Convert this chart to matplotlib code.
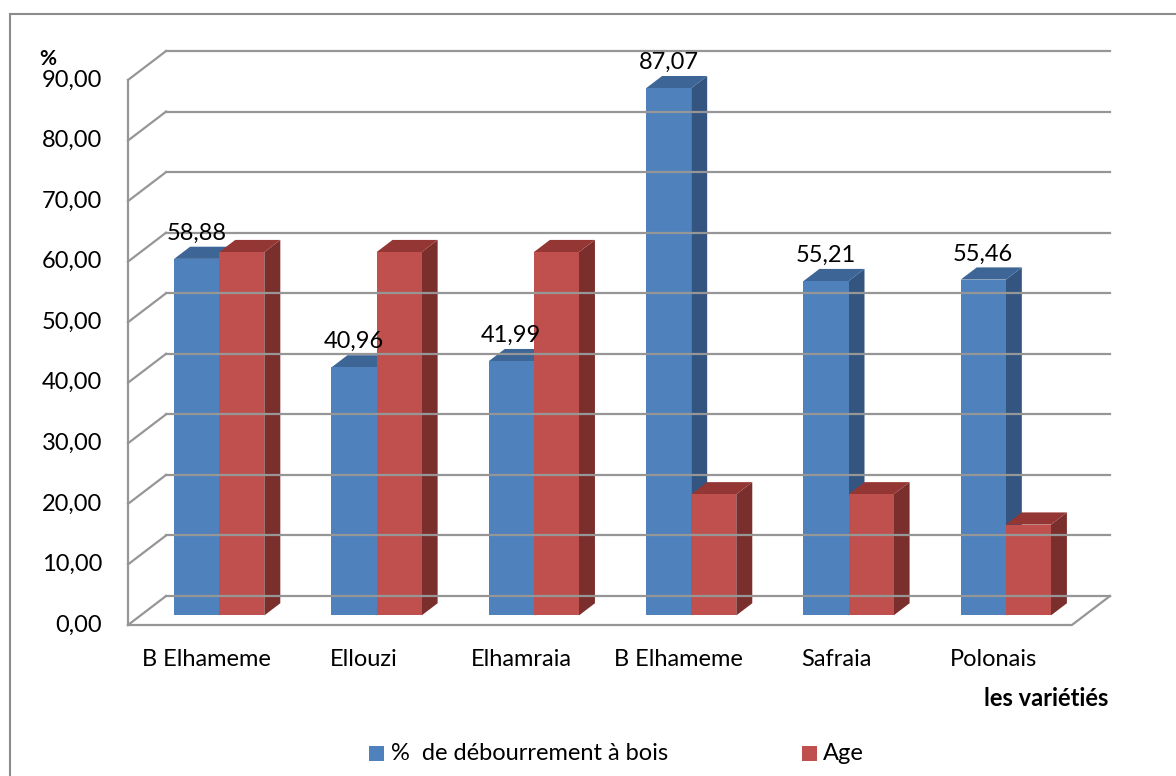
import numpy as np
import matplotlib
matplotlib.use("Agg")
import matplotlib.pyplot as plt
from matplotlib.patches import Polygon, Rectangle
from matplotlib.lines import Line2D

# données
varietes = ["B Elhameme", "Ellouzi", "Elhamraia", "B Elhameme", "Safraia", "Polonais"]
debourrement = [58.88, 40.96, 41.99, 87.07, 55.21, 55.46]
age = [60, 60, 60, 20, 20, 15]
y_ticks = np.arange(0, 91, 10)
series = ["%  de débourrement à bois", "Age"]

# couleurs (face, dessus, côté)
colors = [("#4F81BD", "#3D6596", "#34557F"),
          ("#C0504D", "#943634", "#7B2F2D")]
grid_c = "#969696"

plt.rcParams['font.family'] = ['Lato', 'DejaVu Sans']
fs = 17

W, H = 1176, 776
fig = plt.figure(figsize=(W / 100, H / 100), dpi=100)

# zone du graphe (pixels) : plan avant de 128 à 1070, mur du fond jusqu'à 1110
x0, x1, y0, y1 = 128, 1110, 625, 51
ax = fig.add_axes([x0 / W, 1 - y0 / H, (x1 - x0) / W, (y0 - y1) / H])
n = len(varietes)
dx = 38 / 157      # profondeur (unités catégorie)
dy = 29 / 6.055    # profondeur (unités valeur)
ax.set_xlim(0, n + dx)
ax.set_ylim(0, 90 + dy)
ax.axis('off')

# murs et grille
for t in y_ticks:
    ax.add_line(Line2D([dx, n + dx], [t + dy, t + dy], color=grid_c, lw=1.6, clip_on=False))
    ax.add_line(Line2D([0, dx], [t, t + dy], color=grid_c, lw=1.6, clip_on=False))
    ax.annotate(f"{t:.2f}".replace('.', ','), xy=(0, t), xytext=(-18.7, 0),
                textcoords='offset points', ha='right', va='center', fontsize=fs)
ax.add_line(Line2D([0, 0], [0, 90], color=grid_c, lw=1.6, clip_on=False))
ax.add_line(Line2D([0, n, n + dx], [0, 0, dy], color=grid_c, lw=1.6, clip_on=False))

# barres 3D
w = 45 / 157
a, b = 0.33, 0.75
for i in range(n):
    ax.annotate(varietes[i], xy=(i + 0.5, 0), xytext=(0, -25), textcoords='offset points',
                ha='center', va='center', fontsize=fs)
    for s, vals in enumerate([debourrement, age]):
        v = vals[i]
        face, top, side = colors[s]
        l = i + 0.5 - w + s * w + a * dx
        r = l + w
        ddx, ddy = (b - a) * dx, (b - a) * dy
        ax.add_patch(Polygon([(r, a * dy), (r + ddx, b * dy), (r + ddx, v + b * dy), (r, v + a * dy)],
                             closed=True, facecolor=side, edgecolor='none'))
        ax.add_patch(Polygon([(l, v + a * dy), (r, v + a * dy), (r + ddx, v + b * dy), (l + ddx, v + b * dy)],
                             closed=True, facecolor=top, edgecolor='none'))
        ax.add_patch(Rectangle((l, a * dy), w, v, facecolor=face, edgecolor='none'))
        if s == 0:
            ax.annotate(f"{v:.2f}".replace('.', ','), xy=(l + w / 2, v + b * dy), xytext=(0, 5),
                        textcoords='offset points', ha='center', va='baseline', fontsize=fs)

# titres des axes
fig.text(48 / W, 1 - 59 / H, "%", ha='center', va='center', fontsize=15, fontweight='bold')
fig.text(1108 / W, 1 - 699 / H, "les variétiés", ha='right', va='center', fontsize=fs, fontweight='bold')

# légende
for (sx, tx), name, c in zip([(369, 391), (802, 823)], series, colors):
    fig.add_artist(Rectangle((sx / W, 1 - 761 / H), 15 / W, 15 / H, facecolor=c[0],
                             edgecolor='none', transform=fig.transFigure))
    fig.text(tx / W, 1 - 753 / H, name, ha='left', va='center', fontsize=fs)

# cadre
fig.add_artist(Line2D([10 / W, 10 / W], [0, 1 - 14 / H], color='#8C8C8C', lw=1.5))
fig.add_artist(Line2D([10 / W, 1], [1 - 14 / H, 1 - 14 / H], color='#8C8C8C', lw=1.5))

fig.savefig("out.png", dpi=100)
